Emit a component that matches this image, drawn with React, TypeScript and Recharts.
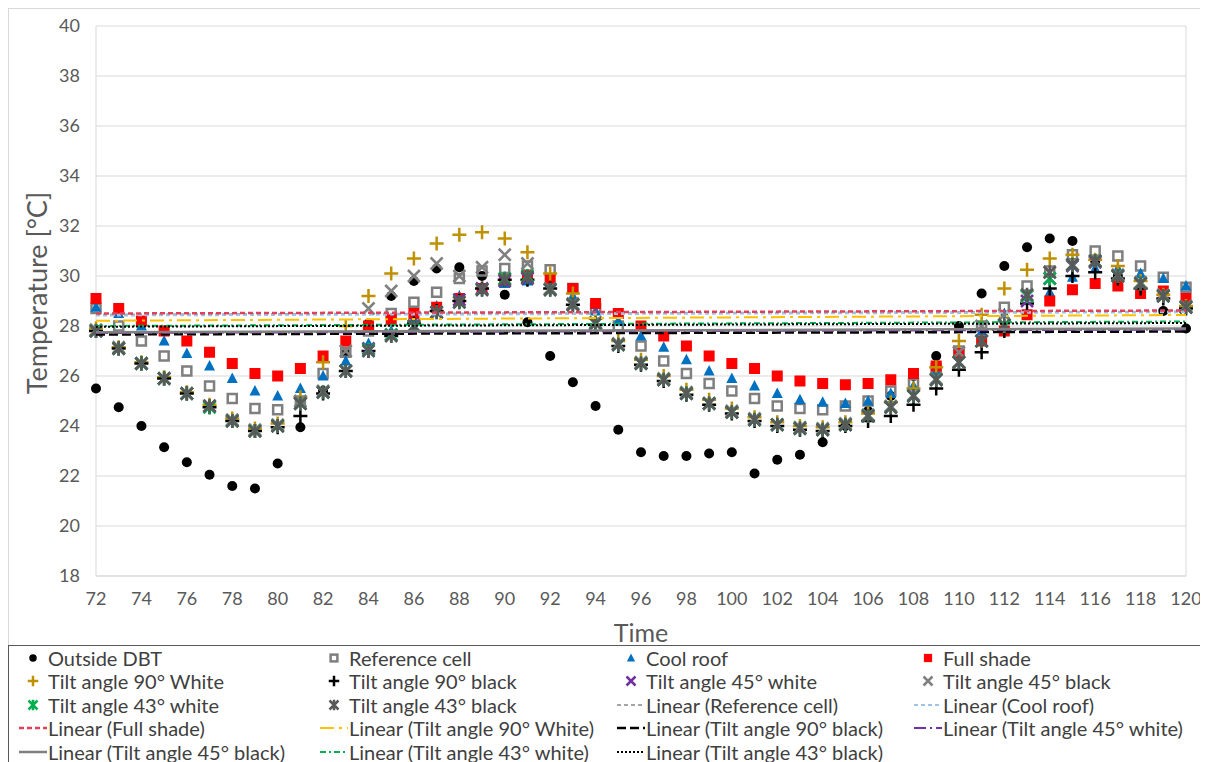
import React from 'react';
import { ScatterChart, Scatter, XAxis, YAxis, CartesianGrid } from 'recharts';

const hours = [72, 73, 74, 75, 76, 77, 78, 79, 80, 81, 82, 83, 84, 85, 86, 87, 88, 89, 90, 91, 92, 93, 94, 95, 96,
  97, 98, 99, 100, 101, 102, 103, 104, 105, 106, 107, 108, 109, 110, 111, 112, 113, 114, 115, 116, 117, 118, 119, 120];
const xTicks = [72, 74, 76, 78, 80, 82, 84, 86, 88, 90, 92, 94, 96, 98, 100, 102, 104, 106, 108, 110, 112, 114, 116, 118, 120];
const yTicks = [18, 20, 22, 24, 26, 28, 30, 32, 34, 36, 38, 40];

const outsideDbt = [25.5, 24.75, 24.0, 23.15, 22.55, 22.05, 21.6, 21.5, 22.5, 23.95, 25.4, 26.9, 28.1, 29.2, 29.8, 30.3, 30.35, 30.0, 29.25,
  28.15, 26.8, 25.75, 24.8, 23.85, 22.95, 22.8, 22.8, 22.9, 22.95, 22.1, 22.65, 22.85, 23.35, 24.0, 24.6, 25.2, 26.0, 26.8, 28.0,
  29.3, 30.4, 31.15, 31.5, 31.4, 30.6, 30.0, 29.3, 28.6, 27.9];
const referenceCell = [28.7, 28.0, 27.4, 26.8, 26.2, 25.6, 25.1, 24.7, 24.65, 25.0, 26.1, 26.95, 27.8, 28.5, 28.95, 29.35, 29.9, 30.2, 30.3,
  30.4, 30.25, 29.5, 28.7, 28.0, 27.2, 26.6, 26.1, 25.7, 25.4, 25.1, 24.8, 24.7, 24.65, 24.8, 25.0, 25.4, 25.7, 26.3, 27.0,
  28.0, 28.75, 29.6, 30.2, 30.85, 31.0, 30.8, 30.4, 29.95, 29.55];
const coolRoof = [28.75, 28.5, 28.0, 27.4, 26.9, 26.4, 25.9, 25.4, 25.2, 25.5, 26.0, 26.6, 27.3, 27.8, 28.3, 28.8, 29.2, 29.5, 29.7,
  29.8, 29.7, 29.2, 28.6, 28.2, 27.6, 27.15, 26.65, 26.2, 25.9, 25.6, 25.3, 25.05, 24.95, 24.9, 25.0, 25.3, 25.6, 26.2, 26.9,
  27.8, 28.5, 29.2, 29.35, 29.95, 30.3, 30.3, 30.1, 29.9, 29.6];
const fullShade = [29.1, 28.7, 28.2, 27.8, 27.4, 26.95, 26.5, 26.1, 26.0, 26.3, 26.8, 27.4, 28.0, 28.25, 28.5, 28.75, 29.1, 29.5, 29.85,
  30.0, 29.9, 29.5, 28.9, 28.5, 28.0, 27.6, 27.2, 26.8, 26.5, 26.3, 26.0, 25.8, 25.7, 25.65, 25.7, 25.85, 26.1, 26.4, 26.9,
  27.4, 27.8, 28.45, 29.0, 29.45, 29.7, 29.6, 29.3, 29.4, 29.1];
const tilt90White = [27.9, 27.15, 26.55, 25.95, 25.35, 24.85, 24.3, 23.9, 24.1, 25.15, 26.55, 28.0, 29.2, 30.1, 30.7, 31.3, 31.65, 31.75, 31.5,
  30.95, 30.1, 29.3, 28.3, 27.4, 26.65, 26.0, 25.45, 25.05, 24.7, 24.35, 24.15, 24.0, 23.95, 24.15, 24.5, 24.95, 25.5, 26.35, 27.4,
  28.45, 29.5, 30.25, 30.7, 30.85, 30.65, 30.4, 29.8, 29.25, 28.8];
const tilt90Black = [27.8, 27.1, 26.5, 25.9, 25.3, 24.75, 24.2, 23.8, 23.95, 24.4, 25.3, 26.2, 27.0, 27.6, 28.1, 28.6, 29.0, 29.5, 29.85,
  29.85, 29.5, 28.85, 28.05, 27.2, 26.45, 25.8, 25.25, 24.85, 24.5, 24.2, 24.0, 23.85, 23.8, 24.0, 24.2, 24.4, 24.85, 25.5, 26.25,
  26.95, 27.8, 28.9, 29.5, 30.0, 30.15, 29.9, 29.5, 29.1, 28.7];
const tilt45White = [27.8, 27.1, 26.5, 25.9, 25.3, 24.8, 24.2, 23.8, 24.0, 24.9, 25.35, 26.2, 27.1, 27.65, 28.0, 28.55, 29.05, 29.5, 29.8,
  29.9, 29.45, 28.85, 28.1, 27.25, 26.5, 25.85, 25.3, 24.9, 24.55, 24.25, 24.05, 23.9, 23.85, 24.05, 24.4, 24.75, 25.2, 25.85, 26.55,
  27.4, 28.0, 29.0, 29.9, 30.4, 30.55, 30.0, 29.7, 29.2, 28.75];
const tilt45Black = [27.85, 27.15, 26.5, 25.9, 25.3, 24.8, 24.25, 23.85, 24.05, 25.0, 25.4, 27.0, 28.7, 29.4, 30.0, 30.5, 30.0, 30.35, 30.85,
  30.5, 29.5, 28.9, 28.15, 27.3, 26.55, 25.9, 25.35, 24.9, 24.6, 24.3, 24.05, 23.95, 23.9, 24.1, 24.45, 24.8, 25.25, 25.9, 26.95,
  28.0, 28.45, 29.2, 30.15, 30.45, 30.6, 30.05, 29.75, 29.25, 28.8];
const tilt43White = [27.8, 27.1, 26.5, 25.9, 25.3, 24.75, 24.2, 23.8, 24.0, 24.9, 25.35, 26.2, 27.05, 27.65, 28.0, 28.55, 28.95, 29.45, 29.9,
  30.0, 29.45, 28.85, 28.1, 27.25, 26.5, 25.85, 25.3, 24.9, 24.55, 24.25, 24.05, 23.9, 23.85, 24.05, 24.4, 24.75, 25.2, 25.85, 26.55,
  27.4, 28.0, 29.2, 29.9, 30.45, 30.6, 30.0, 29.7, 29.2, 28.75];
const tilt43Black = [27.8, 27.1, 26.5, 25.9, 25.3, 24.8, 24.2, 23.8, 24.0, 24.9, 25.35, 26.2, 27.0, 27.6, 28.0, 28.55, 28.95, 29.45, 29.85,
  29.95, 29.45, 28.85, 28.1, 27.25, 26.5, 25.85, 25.3, 24.9, 24.55, 24.25, 24.05, 23.9, 23.85, 24.05, 24.4, 24.75, 25.2, 25.85, 26.55,
  27.4, 28.05, 29.25, 30.15, 30.45, 30.6, 30.0, 29.7, 29.2, 28.75];

// linear trendline values at the first and last hour (fitted on the full record, not just this window)
const trendReference = [28.46, 28.58];
const trendCoolRoof = [28.42, 28.55];
const trendFullShade = [28.5, 28.62];
const trend90White = [28.21, 28.44];
const trend90Black = [27.66, 27.78];
const trend45White = [27.72, 27.86];
const trend45Black = [27.75, 27.9];
const trend43White = [28.0, 28.18];
const trend43Black = [27.97, 28.12];

const FONT = 'Lato, "Noto Sans", sans-serif';

type MarkerKind = 'dot' | 'hollowSquare' | 'triangle' | 'square' | 'plus' | 'cross' | 'star';

const Marker = ({ kind, color, cx, cy, s = 1 }: { kind: MarkerKind; color: string; cx: number; cy: number; s?: number }) => {
  if (cx == null || cy == null) return <g />;
  switch (kind) {
    case 'dot':
      return <circle cx={cx} cy={cy} r={5 * s} fill={color} />;
    case 'hollowSquare':
      return <rect x={cx - 4.5 * s} y={cy - 4.5 * s} width={9 * s} height={9 * s} fill="none" stroke={color} strokeWidth={2.5} />;
    case 'triangle':
      return <polygon points={`${cx},${cy - 6 * s} ${cx - 5.5 * s},${cy + 4.5 * s} ${cx + 5.5 * s},${cy + 4.5 * s}`} fill={color} />;
    case 'square':
      return <rect x={cx - 5.5 * s} y={cy - 5.5 * s} width={11 * s} height={11 * s} fill={color} />;
    case 'plus':
      return <path d={`M${cx - 7 * s},${cy}H${cx + 7 * s}M${cx},${cy - 7 * s}V${cy + 7 * s}`} stroke={color} strokeWidth={2.5} fill="none" />;
    case 'cross':
      return <path d={`M${cx - 6 * s},${cy - 6 * s}L${cx + 6 * s},${cy + 6 * s}M${cx + 6 * s},${cy - 6 * s}L${cx - 6 * s},${cy + 6 * s}`} stroke={color} strokeWidth={2.5} fill="none" />;
    case 'star':
      return <path d={`M${cx - 6 * s},${cy - 6 * s}L${cx + 6 * s},${cy + 6 * s}M${cx + 6 * s},${cy - 6 * s}L${cx - 6 * s},${cy + 6 * s}M${cx},${cy - 7 * s}V${cy + 7 * s}`} stroke={color} strokeWidth={2.5} fill="none" />;
  }
  return <g />;
};

const series: { name: string; values: number[]; kind: MarkerKind; color: string }[] = [
  { name: 'Outside DBT', values: outsideDbt, kind: 'dot', color: '#000000' },
  { name: 'Reference cell', values: referenceCell, kind: 'hollowSquare', color: '#7F7F7F' },
  { name: 'Cool roof', values: coolRoof, kind: 'triangle', color: '#0070C0' },
  { name: 'Full shade', values: fullShade, kind: 'square', color: '#FF0000' },
  { name: 'Tilt angle 90° White', values: tilt90White, kind: 'plus', color: '#BF9000' },
  { name: 'Tilt angle 90° black', values: tilt90Black, kind: 'plus', color: '#000000' },
  { name: 'Tilt angle 45° white', values: tilt45White, kind: 'cross', color: '#7030A0' },
  { name: 'Tilt angle 45° black', values: tilt45Black, kind: 'cross', color: '#808080' },
  { name: 'Tilt angle 43° white', values: tilt43White, kind: 'star', color: '#00B050' },
  { name: 'Tilt angle 43° black', values: tilt43Black, kind: 'star', color: '#595959' },
];

const trends: { name: string; ends: number[]; stroke: string; dash?: string; width: number }[] = [
  { name: 'Linear (Reference cell)', ends: trendReference, stroke: '#A5A5A5', dash: '4 3', width: 2 },
  { name: 'Linear (Cool roof)', ends: trendCoolRoof, stroke: '#9DC3E6', dash: '4 3', width: 2 },
  { name: 'Linear (Full shade)', ends: trendFullShade, stroke: '#E0405A', dash: '5 3', width: 2.5 },
  { name: 'Linear (Tilt angle 90° White)', ends: trend90White, stroke: '#FFC000', dash: '14 5 3 5', width: 2 },
  { name: 'Linear (Tilt angle 90° black)', ends: trend90Black, stroke: '#000000', dash: '9 4', width: 2.5 },
  { name: 'Linear (Tilt angle 45° white)', ends: trend45White, stroke: '#7030A0', dash: '12 4 2 4', width: 2 },
  { name: 'Linear (Tilt angle 45° black)', ends: trend45Black, stroke: '#808080', width: 2.5 },
  { name: 'Linear (Tilt angle 43° white)', ends: trend43White, stroke: '#00B050', dash: '6 3 2 3', width: 2 },
  { name: 'Linear (Tilt angle 43° black)', ends: trend43Black, stroke: '#000000', dash: '2 2', width: 2 },
];

const toPoints = (values: number[]) => hours.map((h, i) => ({ x: h, y: values[i] }));
const trendPoints = (ends: number[]) => [
  { x: hours[0], y: ends[0] },
  { x: hours[hours.length - 1], y: ends[1] },
];

const legendCols = [17, 318, 615, 912];

const LegendBox = () => {
  const items = [
    ...series.map(s => ({ name: s.name, draw: <Marker kind={s.kind} color={s.color} cx={15} cy={11} s={0.75} /> })),
    ...trends.map(t => ({
      name: t.name,
      draw: <line x1={1} y1={11} x2={29} y2={11} stroke={t.stroke} strokeWidth={t.width} strokeDasharray={t.dash} />,
    })),
  ];
  return (
    <div style={{ position: 'absolute', left: -1, top: 636, width: 1196, height: 125, border: '1.5px solid #595959', boxSizing: 'border-box', background: '#fff' }}>
      {items.map((it, i) => (
        <div key={it.name} style={{ position: 'absolute', left: legendCols[i % 4] - 8, top: 1 + Math.floor(i / 4) * 23.4, display: 'flex', alignItems: 'center', height: 22 }}>
          <svg width={30} height={22}>{it.draw}</svg>
          <span style={{ fontFamily: FONT, fontSize: 20, color: '#404040', whiteSpace: 'nowrap' }}>{it.name}</span>
        </div>
      ))}
    </div>
  );
};

export default function App() {
  return (
    <div style={{ position: 'relative', width: 1196, height: 754, border: '1px solid #D9D9D9', boxSizing: 'border-box', background: '#fff' }}>
      <ScatterChart width={1194} height={640} margin={{ top: 17, right: 17, bottom: 13, left: 0 }}>
        <CartesianGrid xAxisId="grid" stroke="#D9D9D9" strokeWidth={1} />
        <XAxis xAxisId="grid" dataKey="x" type="number" domain={[72, 120]} ticks={hours} hide />
        <XAxis
          dataKey="x"
          type="number"
          domain={[72, 120]}
          ticks={xTicks}
          interval={0}
          height={60}
          axisLine={{ stroke: '#D9D9D9' }}
          tickLine={false}
          tickMargin={10}
          tick={{ fill: '#595959', fontSize: 18, fontFamily: FONT }}
          label={{ value: 'Time', position: 'insideBottom', offset: 0, dy: 6, fill: '#595959', fontSize: 25, fontFamily: FONT }}
        />
        <YAxis
          dataKey="y"
          type="number"
          domain={[18, 40]}
          ticks={yTicks}
          interval={0}
          width={87}
          axisLine={false}
          tickLine={false}
          tickMargin={10}
          tick={{ fill: '#595959', fontSize: 18, fontFamily: FONT }}
          label={{ value: 'Temperature [°C]', angle: -90, position: 'center', dx: -15, dy: -8, fill: '#595959', fontSize: 27, fontFamily: FONT }}
        />
        {series.map(s => (
          <Scatter
            key={s.name}
            name={s.name}
            data={toPoints(s.values)}
            isAnimationActive={false}
            shape={(p: any) => <Marker kind={s.kind} color={s.color} cx={p.cx} cy={p.cy} />}
          />
        ))}
        {trends.map(t => (
          <Scatter
            key={t.name}
            name={t.name}
            data={trendPoints(t.ends)}
            isAnimationActive={false}
            line={{ stroke: t.stroke, strokeWidth: t.width, strokeDasharray: t.dash }}
            shape={() => <g />}
          />
        ))}
      </ScatterChart>
      <LegendBox />
    </div>
  );
}
